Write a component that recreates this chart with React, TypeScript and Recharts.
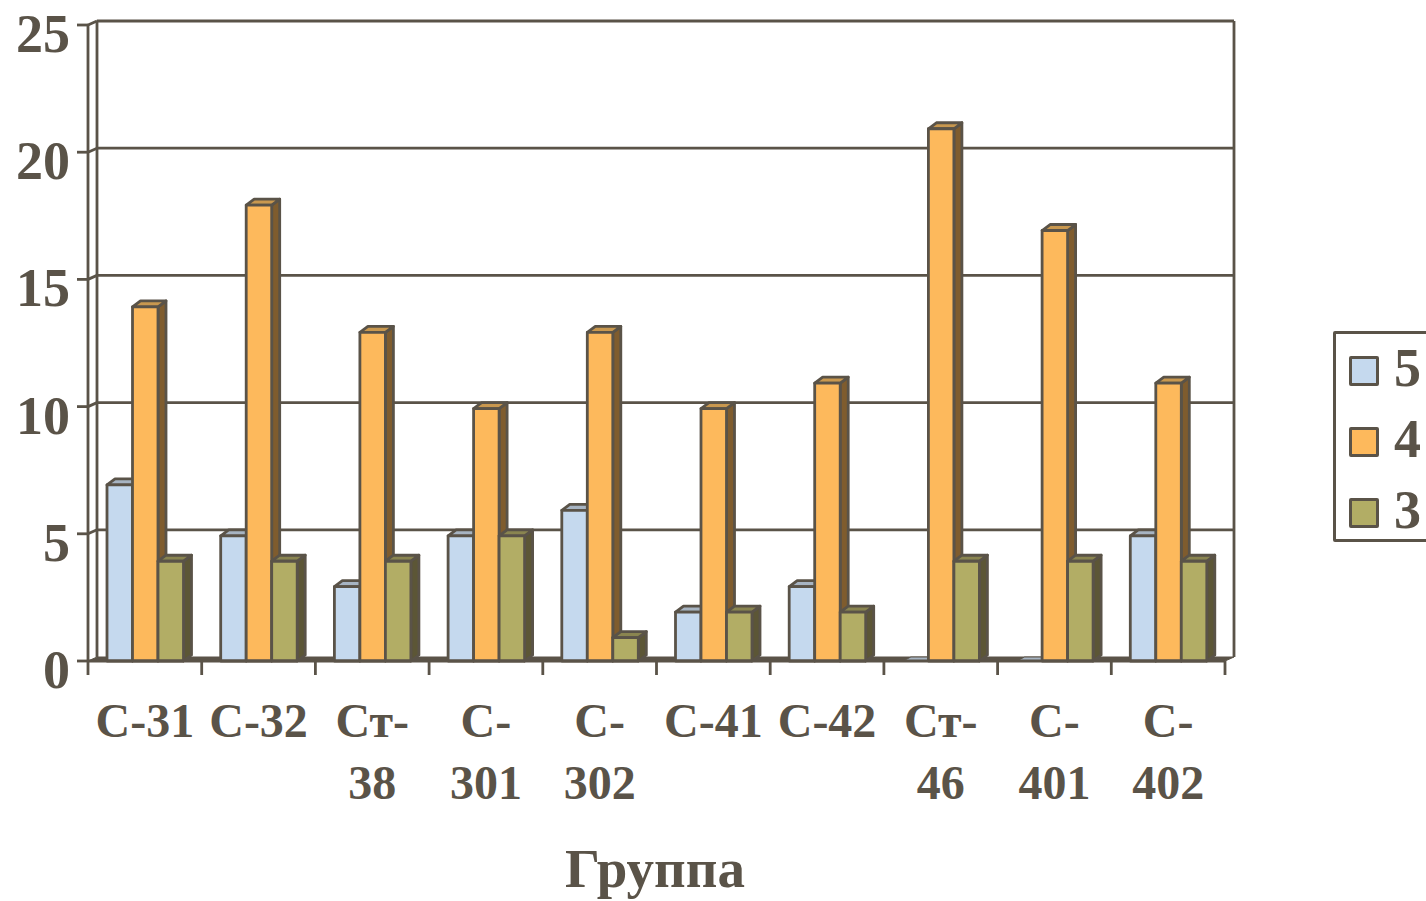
import React from 'react';
import { BarChart, Bar, XAxis, YAxis, CartesianGrid, Legend } from 'recharts';

const categories = ['С-31', 'С-32', 'Ст-\n38', 'С-\n301', 'С-\n302', 'С-41', 'С-42', 'Ст-\n46', 'С-\n401', 'С-\n402'];
const grade5 = [7, 5, 3, 5, 6, 2, 3, 0, 0, 5];
const grade4 = [14, 18, 13, 10, 13, 10, 11, 21, 17, 11];
const grade3 = [4, 4, 4, 5, 1, 2, 2, 4, 4, 4];
const yTicks = [0, 5, 10, 15, 20, 25];
const legendOrder = ['5', '4', '3'];
const xTitle = 'Группа';

const rows = categories.map((name, i) => ({ name, g5: grade5[i], g4: grade4[i], g3: grade3[i] }));

const INK = '#5a5348';
const FONT = '"Liberation Serif", "Times New Roman", serif';
const W = 1426;
const H = 901;
const LEFT = 88;
const TOP = 25;
const RIGHT = 201;
const BOTTOM = 240;
const PLOT_W = W - LEFT - RIGHT;
const PLOT_H = H - TOP - BOTTOM;
const BAND = PLOT_W / categories.length;
const WALL_DX = 9;
const WALL_DY = -4;
const BAR_DX = 8;
const BAR_DY = -6;
const LW = 2.8;

const bar3d = (front: string, top: string, side: string) => (props: any) => {
  const { x, y: rawY, width, height } = props;
  const b = rawY + height;
  const y = Math.min(rawY + 2, b);
  const r = x + width;
  const dy = height > 0 ? BAR_DY : WALL_DY;
  return (
    <g stroke={INK} strokeWidth={height > 0 ? LW : 1} strokeLinejoin="round">
      <polygon points={`${r},${b} ${r + BAR_DX},${b + dy} ${r + BAR_DX},${y + dy} ${r},${y}`} fill={side} />
      <polygon points={`${x},${y} ${x + BAR_DX},${y + dy} ${r + BAR_DX},${y + dy} ${r},${y}`} fill={top} />
      <rect x={x} y={y} width={width} height={b - y} fill={front} />
    </g>
  );
};

const gridLine = (props: any) => {
  const { x1, x2, y1, index } = props;
  const by = y1 + WALL_DY;
  const isFloor = Math.abs(y1 - (TOP + PLOT_H)) < 1;
  return (
    <g key={`grid-${index}`} stroke={INK} strokeWidth={LW} fill="none">
      {isFloor ? (
        <>
          <polygon
            points={`${x1},${y1} ${x1 + WALL_DX},${by} ${x2 + WALL_DX},${by} ${x2},${y1}`}
            fill={INK}
            strokeWidth={1}
          />
          <line x1={x1 + WALL_DX} x2={x1 + WALL_DX} y1={by} y2={by - PLOT_H} />
          <line x1={x2 + WALL_DX} x2={x2 + WALL_DX} y1={by} y2={by - PLOT_H} />
        </>
      ) : (
        <>
          <line x1={x1 + WALL_DX} x2={x2 + WALL_DX} y1={by} y2={by} />
          <line x1={x1} x2={x1 + WALL_DX} y1={y1} y2={by} />
        </>
      )}
    </g>
  );
};

const YTick = (props: any) => {
  const { x, y, payload } = props;
  return (
    <text x={x - 5} y={y + 27} textAnchor="end" fontFamily={FONT} fontWeight="bold" fontSize={54} fill={INK}>
      {payload.value}
    </text>
  );
};

const XTick = (props: any) => {
  const { x, y, payload, index } = props;
  const lines = String(payload.value).split('\n');
  const left = x - BAND / 2;
  return (
    <g>
      <line x1={left} x2={left} y1={y} y2={y + 14} stroke={INK} strokeWidth={LW} />
      {index === categories.length - 1 && (
        <line x1={left + BAND} x2={left + BAND} y1={y} y2={y + 14} stroke={INK} strokeWidth={LW} />
      )}
      {lines.map((t, i) => (
        <text
          key={i}
          x={x}
          y={y + 76 + i * 62}
          textAnchor="middle"
          fontFamily={FONT}
          fontWeight="bold"
          fontSize={48}
          fill={INK}
        >
          {t}
        </text>
      ))}
    </g>
  );
};

const LegendBox = (props: any) => {
  const items = [...(props.payload || [])].sort(
    (a: any, b: any) => legendOrder.indexOf(String(a.value)) - legendOrder.indexOf(String(b.value)),
  );
  return (
    <div
      style={{
        width: 120,
        height: 211,
        boxSizing: 'border-box',
        border: `3px solid ${INK}`,
        borderRadius: 2,
        background: '#fff',
        position: 'relative',
      }}
    >
      {items.map((p: any, i: number) => (
        <div key={p.value} style={{ position: 'absolute', left: 13, top: 21 + i * 71, height: 31, display: 'flex', alignItems: 'center' }}>
          <span
            style={{
              width: 30,
              height: 30,
              boxSizing: 'border-box',
              background: p.color,
              border: `3px solid ${INK}`,
              borderRadius: 2,
              display: 'block',
            }}
          />
          <span
            style={{
              marginLeft: 15,
              marginTop: -4,
              fontFamily: FONT,
              fontWeight: 'bold',
              fontSize: 54,
              lineHeight: '31px',
              color: INK,
            }}
          >
            {p.value}
          </span>
        </div>
      ))}
    </div>
  );
};

export default function App() {
  return (
    <div style={{ position: 'absolute', left: 0, top: 0, width: W, height: H, overflow: 'hidden', background: '#fff' }}>
      <BarChart
        width={W}
        height={H}
        data={rows}
        margin={{ top: TOP, right: RIGHT, bottom: 0, left: 0 }}
        barGap={0}
        barSize={25.5}
      >
        <CartesianGrid horizontal={gridLine} vertical={false} />
        <XAxis
          dataKey="name"
          interval={0}
          height={BOTTOM}
          tick={XTick}
          tickLine={false}
          tickSize={0}
          tickMargin={0}
          axisLine={{ stroke: INK, strokeWidth: LW }}
          label={{
            value: xTitle,
            content: () => (
              <text x={655} y={887} textAnchor="middle" fontFamily={FONT} fontWeight="bold" fontSize={55} fill={INK}>
                {xTitle}
              </text>
            ),
          }}
        />
        <YAxis
          width={LEFT}
          domain={[0, 25]}
          ticks={yTicks}
          interval={0}
          tick={YTick}
          tickSize={11}
          tickLine={{ stroke: INK, strokeWidth: LW }}
          axisLine={{ stroke: INK, strokeWidth: LW }}
        />
        <Legend
          layout="vertical"
          align="center"
          verticalAlign="middle"
          content={LegendBox}
          wrapperStyle={{ left: 1333, top: 331, width: 120, height: 211, right: 'auto', bottom: 'auto' }}
        />
        <Bar dataKey="g5" name="5" fill="#c5d9ee" isAnimationActive={false} shape={bar3d('#c5d9ee', '#a7b4c2', '#7f8b96')} />
        <Bar dataKey="g4" name="4" fill="#fdb95c" isAnimationActive={false} shape={bar3d('#fdb95c', '#c9984f', '#7f5c2e')} />
        <Bar dataKey="g3" name="3" fill="#b2ad65" isAnimationActive={false} shape={bar3d('#b2ad65', '#8a8550', '#5c5636')} />
      </BarChart>
    </div>
  );
}
